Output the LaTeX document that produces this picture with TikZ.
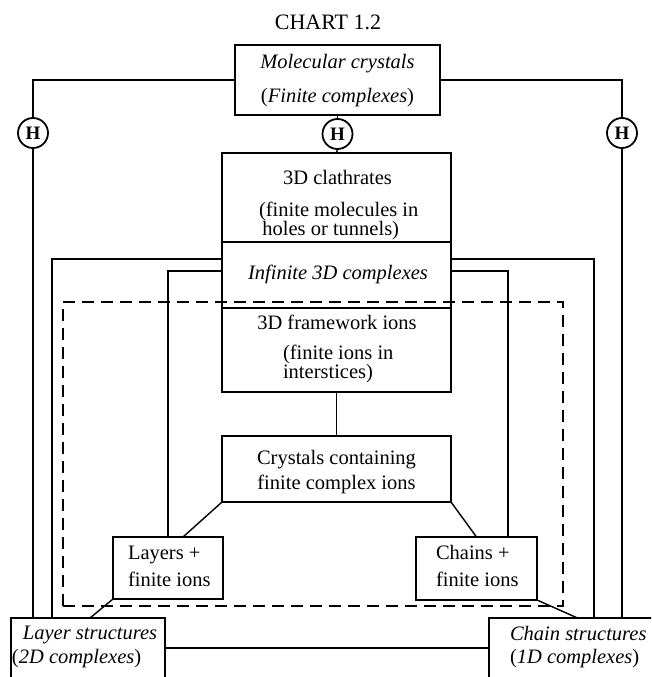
\documentclass[tikz,border=0pt]{standalone}
\usepackage{fontspec}
\setmainfont{Liberation Serif}
\begin{document}
\begin{tikzpicture}[x=1pt,y=-1pt]
\tikzset{
 box/.style={draw, line width=1.7pt, inner sep=0pt, outer sep=0pt},
 txt/.style={inner sep=0pt, outer sep=0pt, font=\fontsize{20.5}{24}\selectfont},
 tight/.style={inner sep=0pt, outer sep=0pt, font=\fontsize{20.5}{18}\selectfont},
 con/.style={line width=1.4pt},
 hc/.style={draw, circle, line width=1.8pt, minimum size=30pt, inner sep=0pt, outer sep=0pt, font=\fontsize{19}{20}\selectfont\bfseries},
 dashbox/.style={draw, dash pattern=on 12pt off 7pt, line width=1.6pt, inner sep=0pt, outer sep=0pt}
}
\useasboundingbox (0,0) rectangle (651,677);
\clip (0,0) rectangle (651,677);
% title
\node[txt, anchor=base, font=\fontsize{22}{26}\selectfont] (title) at (328,30) {CHART 1.2};
% boxes
\node[box, minimum width=205pt, minimum height=70pt] (mol) at (337.5,80) {};
\node[box, minimum width=229pt, minimum height=89pt] (clath) at (336.5,197.5) {};
\node[box, minimum width=229pt, minimum height=66pt] (inf) at (336.5,275) {};
\node[box, minimum width=229pt, minimum height=84pt] (fw) at (336.5,350) {};
\node[box, minimum width=229pt, minimum height=66pt] (cry) at (336.5,469) {};
\node[box, minimum width=110pt, minimum height=62pt] (lay) at (168,568) {};
\node[box, minimum width=121pt, minimum height=63pt] (cha) at (476.5,568.5) {};
\node[box, minimum width=154pt, minimum height=82pt] (ls) at (88,659) {};
\node[box, minimum width=181pt, minimum height=82pt] (cs) at (579.5,659) {};
% H circles
\node[hc] (H1) at (33,133) {H};
\node[hc] (H2) at (337.5,134) {H};
\node[hc] (H3) at (622,133) {H};
% texts
\node[txt, anchor=base] (mol1) at (337.5,68) {\itshape Molecular crystals};
\node[txt, anchor=base] (mol2) at (337.5,102) {(\textit{Finite complexes})};
\node[txt, anchor=base] (cl1) at (337.5,184) {3D clathrates};
\node[tight, anchor=base west] (cl2) at (259,216) {\begin{tabular}[t]{@{}l@{}}(finite molecules in\\ \,holes or tunnels)\end{tabular}};
\node[txt, anchor=base] (inf1) at (338,279) {\itshape Infinite 3D complexes};
\node[txt, anchor=base] (fw1) at (337,329) {3D framework ions};
\node[tight, anchor=base west] (fw2) at (283,359) {\begin{tabular}[t]{@{}l@{}}(finite ions in\\ interstices)\end{tabular}};
\node[txt, anchor=base] (cr1) at (336.5,464) {Crystals containing};
\node[txt, anchor=base] (cr2) at (336.5,489) {finite complex ions};
\node[txt, anchor=base west] (la1) at (128,559) {Layers +};
\node[txt, anchor=base west] (la2) at (128,586) {finite ions};
\node[txt, anchor=base west] (ch1) at (436,559) {Chains +};
\node[txt, anchor=base west] (ch2) at (436,586) {finite ions};
\node[txt, anchor=base west] (ls1) at (23,639) {\itshape Layer structures};
\node[txt, anchor=base west] (ls2) at (12,663) {(\textit{2D complexes})};
\node[txt, anchor=base west] (cs1) at (510,640) {\itshape Chain structures};
\node[txt, anchor=base west] (cs2) at (510,663) {(\textit{1D complexes})};
% dashed group
\node[dashbox, minimum width=500pt, minimum height=304pt] (grp) at (313,454) {};
% connectors
\coordinate (oL) at (52,259);
\coordinate (oR) at (594,259);
\coordinate (iL) at (168,271);
\coordinate (iR) at (508,271);
\draw[con] (mol.west) -| (H1.north);
\draw[con] (H1.south) -- (H1 |- ls.north);
\draw[con] (mol.east) -| (H3.north);
\draw[con] (H3.south) -- (H3 |- cs.north);
\draw[con] (mol.south) -- (H2.north);
\draw[con] (H2.south) -- (clath.north);
\draw[con] (inf.west |- oL) -- (oL) -- (oL |- ls.north);
\draw[con] (inf.east |- oR) -- (oR) -- (oR |- cs.north);
\draw[con] (inf.west |- iL) -- (iL) -- (lay.north);
\draw[con] (inf.east |- iR) -- (iR) -- (iR |- cha.north);
\draw[con] (fw.south) -- (cry.north);
\draw[con] (cry.south west) -- ([xshift=15pt]lay.north);
\draw[con] (cry.south east) -- (cha.north);
\draw[con] (lay.south west) -- ([xshift=2pt]ls.north);
\draw[con] (cha.south east) -- ([xshift=-2pt]cs.north);
\draw[con] ([yshift=11pt]ls.east) -- ([yshift=11pt]cs.west);
\end{tikzpicture}
\end{document}
